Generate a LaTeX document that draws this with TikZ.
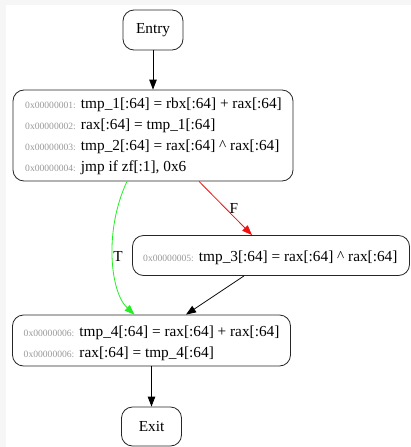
\documentclass[tikz,border=0pt]{standalone}
\usepackage{fontspec}
\setmainfont{Liberation Serif}
\usetikzlibrary{arrows.meta}
\definecolor{addrgray}{HTML}{9A9A9A}
\definecolor{edgegreen}{HTML}{22EE22}
\definecolor{edgered}{HTML}{F01010}
\definecolor{bggray}{HTML}{F6F6F6}
\newcommand{\addr}[1]{{\fontsize{9.6}{11}\selectfont\color{addrgray}#1}}
\tikzset{
  blk/.style={draw=black!85, line width=0.8pt, rounded corners=11pt, inner sep=0pt},
  ln/.style={anchor=base west, inner sep=0pt, font=\fontsize{15.3}{17}\selectfont},
  lbl/.style={inner sep=0pt, font=\fontsize{15.3}{17}\selectfont},
  edge/.style={line width=0.8pt, -{Triangle[length=10pt,width=7.5pt]}},
}
\begin{document}
\begin{tikzpicture}[x=1pt,y=-1pt]
\useasboundingbox (0,0) rectangle (411,447);
\fill[bggray] (0,0) rectangle (411,447);
\fill[white] (6,5) rectangle (420,455);

% nodes
\node[blk, minimum width=60pt, minimum height=40pt, font=\fontsize{15.3}{17}\selectfont] (entry) at (153,30) {Entry};
\node[blk, minimum width=280pt, minimum height=91pt] (b1) at (153,135.5) {};
\node[blk, minimum width=277pt, minimum height=40pt] (b5) at (271,255.5) {};
\node[blk, minimum width=278pt, minimum height=51pt] (b6) at (151.5,340.5) {};
\node[blk, minimum width=60pt, minimum height=39pt, font=\fontsize{15.3}{17}\selectfont] (exit) at (151.5,426.5) {Exit};

% text lines
\node[ln] (l1) at (25,108) {\addr{0x00000001:} tmp\_1[:64] = rbx[:64] + rax[:64]};
\node[ln] (l2) at (25,129.5) {\addr{0x00000002:} rax[:64] = tmp\_1[:64]};
\node[ln] (l3) at (25,150.5) {\addr{0x00000003:} tmp\_2[:64] = rax[:64] \^{} rax[:64]};
\node[ln] (l4) at (25,171.5) {\addr{0x00000004:} jmp if zf[:1], 0x6};
\node[ln] (l5) at (143,261) {\addr{0x00000005:} tmp\_3[:64] = rax[:64] \^{} rax[:64]};
\node[ln] (l6) at (23.5,336.5) {\addr{0x00000006:} tmp\_4[:64] = rax[:64] + rax[:64]};
\node[ln] (l7) at (23.5,357.5) {\addr{0x00000006:} rax[:64] = tmp\_4[:64]};

% edges
\draw[edge] (entry.south) -- (b1.north);
\draw[edge, edgered] ([xshift=46pt]b1.south) -- ([xshift=-19pt]b5.north);
\node[lbl] (F) at (234,208) {F};
\draw[edge, edgegreen] ([xshift=-26pt]b1.south) .. controls (104,230) and (110,292) .. ([xshift=-17pt]b6.north);
\node[lbl] (T) at (118,256) {T};
\draw[edge] ([xshift=-27pt]b5.south) -- ([xshift=34.5pt]b6.north);
\draw[edge] (b6.south) -- (exit.north);
\end{tikzpicture}
\end{document}
